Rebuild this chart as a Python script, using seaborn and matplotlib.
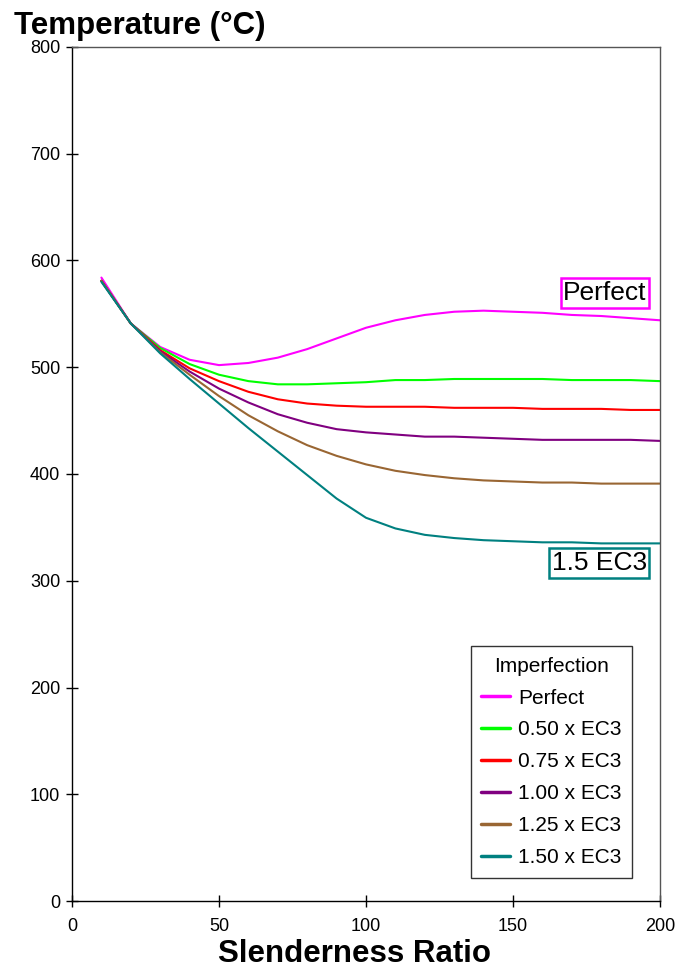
import pandas as pd
import matplotlib.pyplot as plt
import seaborn as sns

# Slenderness ratios sampled every 10
slenderness = [10, 20, 30, 40, 50, 60, 70, 80, 90, 100,
               110, 120, 130, 140, 150, 160, 170, 180, 190, 200]

# Critical temperatures (deg C)
perfect = [584, 541, 519, 507, 502, 504, 509, 517, 527, 537,
           544, 549, 552, 553, 552, 551, 549, 548, 546, 544]
ec3_050 = [581, 541, 518, 503, 493, 487, 484, 484, 485, 486,
           488, 488, 489, 489, 489, 489, 488, 488, 488, 487]
ec3_075 = [581, 541, 516, 499, 487, 477, 470, 466, 464, 463,
           463, 463, 462, 462, 462, 461, 461, 461, 460, 460]
ec3_100 = [581, 541, 515, 496, 480, 467, 456, 448, 442, 439,
           437, 435, 435, 434, 433, 432, 432, 432, 432, 431]
ec3_125 = [581, 541, 514, 493, 473, 455, 440, 427, 417, 409,
           403, 399, 396, 394, 393, 392, 392, 391, 391, 391]
ec3_150 = [580, 541, 513, 489, 466, 443, 421, 399, 377, 359,
           349, 343, 340, 338, 337, 336, 336, 335, 335, 335]

labels = ["Perfect", "0.50 x EC3", "0.75 x EC3", "1.00 x EC3", "1.25 x EC3", "1.50 x EC3"]
series = [perfect, ec3_050, ec3_075, ec3_100, ec3_125, ec3_150]
colors = ["#FF00FF", "#00FF00", "#FF0000", "#800080", "#996633", "#008080"]

# Long-form table for seaborn
df = pd.concat([pd.DataFrame({"slenderness": slenderness, "temp": s, "Imperfection": lab})
                for lab, s in zip(labels, series)], ignore_index=True)

sns.set_style("white")
plt.rcParams['font.family'] = ['Liberation Sans', 'DejaVu Sans']
plt.rcParams['text.color'] = 'black'
plt.rcParams['axes.labelcolor'] = 'black'

fig = plt.figure(figsize=(6.81, 9.69), dpi=100)
ax = fig.add_axes([72 / 681, 68 / 969, 588 / 681, 854 / 969])

sns.lineplot(data=df, x="slenderness", y="temp", hue="Imperfection",
             palette=dict(zip(labels, colors)), hue_order=labels,
             linewidth=1.5, ax=ax)

ax.set_xlim(0, 200)
ax.set_ylim(0, 800)
ax.set_xticks([0, 50, 100, 150, 200])
ax.set_yticks(range(0, 801, 100))
ax.tick_params(axis='both', direction='inout', length=9, width=1, labelsize=13,
               colors='black', left=True, bottom=True)
ax.tick_params(axis='x', pad=8)
ax.tick_params(axis='y', pad=4)
for sp in ax.spines.values():
    sp.set_color('black')
    sp.set_linewidth(1)
ax.spines['top'].set_color('#555555')
ax.spines['right'].set_color('#555555')

ax.set_xlabel("")
ax.set_ylabel("")
fig.text(14 / 681, 1 - 34 / 969, "Temperature (°C)", fontsize=22.5, fontweight='bold',
         ha='left', va='baseline', color='black')
fig.text(354 / 681, 1 - 962 / 969, "Slenderness Ratio", fontsize=22.5, fontweight='bold',
         ha='center', va='baseline', color='black')

leg = ax.legend(title="Imperfection", loc='lower right', bbox_to_anchor=(0.953, 0.0275),
                fontsize=15, title_fontsize=15, frameon=True, fancybox=False,
                handlelength=1.4, handletextpad=0.4, labelspacing=0.62,
                borderpad=0.5, borderaxespad=0)
leg.get_frame().set_edgecolor('black')
leg.get_frame().set_linewidth(1)
for line in leg.get_lines():
    line.set_linewidth(2.5)

ax.annotate("Perfect", xy=(195.5, 569.5), ha='right', va='center', fontsize=19,
            bbox=dict(boxstyle='square,pad=0.1', fc='white', ec='#FF00FF', lw=1.8))
ax.annotate("1.5 EC3", xy=(195.5, 316.5), ha='right', va='center', fontsize=19,
            bbox=dict(boxstyle='square,pad=0.1', fc='white', ec='#008080', lw=1.8))

fig.savefig("out.png", dpi=100)
plt.close(fig)
